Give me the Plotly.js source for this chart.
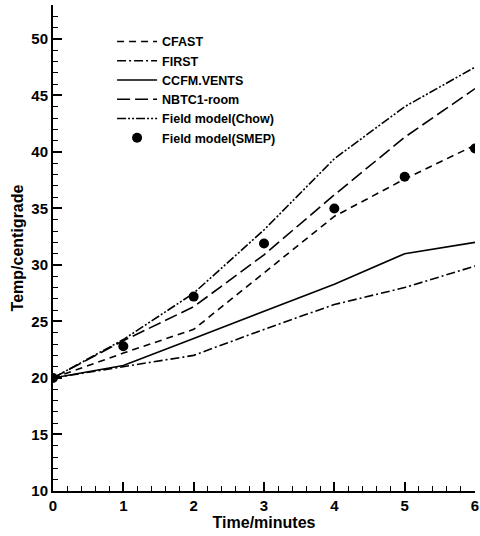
<!DOCTYPE html>
<html><head><meta charset="utf-8">
<script src="https://cdn.plot.ly/plotly-3.0.1.min.js"></script>
<style>html,body{margin:0;padding:0;background:#fff}#c{width:480px;height:536px}</style>
</head><body><div id="c"></div>
<script>
const time = [0, 1, 2, 3, 4, 5, 6];
const cfast = [20, 22.2, 24.3, 29.3, 34.3, 37.6, 40.6];
const first = [20, 21.0, 22.0, 24.3, 26.5, 28.0, 29.9];
const ccfm = [20, 21.1, 23.5, 25.9, 28.3, 31.0, 32.0];
const nbtc1 = [20, 23.3, 26.3, 30.9, 36.2, 41.3, 45.6];
const chow = [20, 23.4, 27.5, 33.1, 39.4, 44.0, 47.5];
const smep = [20, 22.8, 27.2, 31.9, 35.0, 37.8, 40.3];

const yTicks = [10, 15, 20, 25, 30, 35, 40, 45, 50];
const xTicks = [0, 1, 2, 3, 4, 5, 6];

const ln = (name, y, dash) => ({
  x: time, y: y, name: name, type: 'scatter', mode: 'lines',
  line: {color: '#000', width: 1.6, dash: dash}
});

const data = [
  ln('CFAST', cfast, '7px,5px'),
  ln('FIRST', first, '9px,3px,2px,3px'),
  ln('CCFM.VENTS', ccfm, 'solid'),
  ln('NBTC1-room', nbtc1, '13px,5px'),
  ln('Field model(Chow)', chow, '9px,2px,2px,2px,2px,2px'),
  {x: time, y: smep, name: 'Field model(SMEP)', type: 'scatter', mode: 'markers',
   marker: {color: '#000', size: 10, symbol: 'circle'}}
];

const font = {family: 'Liberation Sans, Arial, sans-serif', color: '#000'};
const layout = {
  width: 480, height: 536,
  margin: {l: 53, r: 5, t: 5, b: 45},
  paper_bgcolor: '#fff', plot_bgcolor: '#fff',
  font: font,
  showlegend: true,
  legend: {x: 0.14, y: 0.955, xanchor: 'left', yanchor: 'top', bgcolor: 'rgba(0,0,0,0)',
    font: {family: 'Liberation Sans, Arial, sans-serif', size: 12.5, color: '#000', weight: 'bold'},
    tracegroupgap: 0, itemwidth: 40},
  xaxis: {
    range: [0, 6], tickvals: xTicks, ticktext: xTicks.map(String),
    showgrid: false, zeroline: false, showline: true, linecolor: '#000', linewidth: 2,
    ticks: 'inside', ticklen: 9, tickwidth: 2, tickcolor: '#000',
    minor: {dtick: 0.2, tick0: 0, ticks: 'inside', ticklen: 5, tickwidth: 1, tickcolor: '#000', showgrid: false},
    tickfont: {size: 15, weight: 'bold', family: 'Liberation Sans, Arial, sans-serif'},
    title: {text: 'Time/minutes', font: {size: 16, weight: 'bold', family: 'Liberation Sans, Arial, sans-serif'}, standoff: 2}
  },
  yaxis: {
    range: [10, 53], tickvals: yTicks, ticktext: yTicks.map(String),
    showgrid: false, zeroline: false, showline: true, linecolor: '#000', linewidth: 2,
    ticks: 'inside', ticklen: 9, tickwidth: 2, tickcolor: '#000',
    minor: {dtick: 1, tick0: 10, ticks: 'inside', ticklen: 5, tickwidth: 1, tickcolor: '#000', showgrid: false},
    tickfont: {size: 15, weight: 'bold', family: 'Liberation Sans, Arial, sans-serif'},
    title: {text: 'Temp/centigrade', font: {size: 16, weight: 'bold', family: 'Liberation Sans, Arial, sans-serif'}, standoff: 4}
  }
};
Plotly.newPlot('c', data, layout, {displayModeBar: false, staticPlot: true});
</script></body></html>
